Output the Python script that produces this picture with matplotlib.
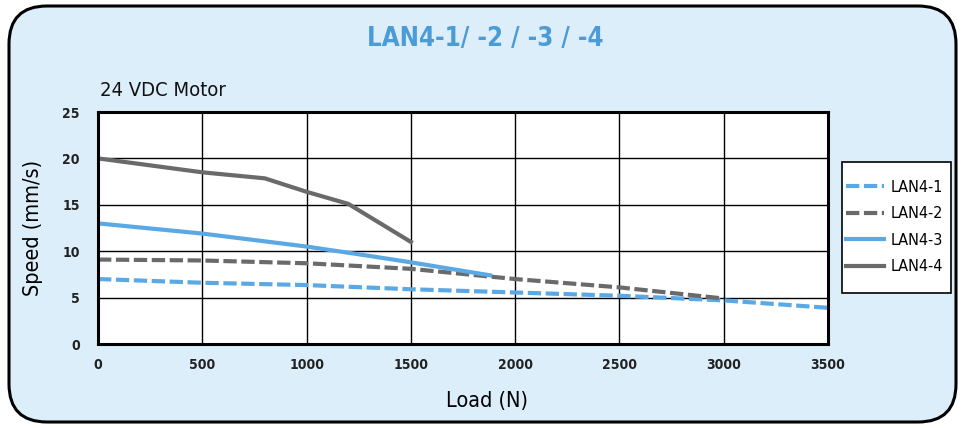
import matplotlib
matplotlib.use("Agg")
import matplotlib.pyplot as plt
from matplotlib.patches import FancyBboxPatch, Rectangle
from matplotlib import font_manager as fm

# ---- data ----
lan1_x = [0, 500, 1000, 1500, 2000, 2500, 3000, 3500]
lan1_y = [7.0, 6.6, 6.35, 5.9, 5.55, 5.2, 4.7, 3.9]
lan2_x = [0, 500, 1000, 1500, 2000, 2500, 3000]
lan2_y = [9.1, 9.0, 8.7, 8.1, 7.0, 6.1, 4.9]
lan3_x = [0, 500, 1000, 1270, 1500, 1880]
lan3_y = [13.0, 11.9, 10.5, 9.6, 8.8, 7.4]
lan4_x = [0, 500, 800, 1000, 1200, 1500]
lan4_y = [20.0, 18.5, 17.85, 16.4, 15.1, 11.0]
x_ticks = [0, 500, 1000, 1500, 2000, 2500, 3000, 3500]
y_ticks = [0, 5, 10, 15, 20, 25]
series_names = ["LAN4-1", "LAN4-2", "LAN4-3", "LAN4-4"]


# ---- pick a condensed font if one is installed ----
def _w(v):
    if isinstance(v, (int, float)):
        return int(v)
    return fm.weight_dict.get(str(v).lower(), 400)


def find_font(bold):
    pref = ["DejaVu Sans", "Liberation Sans Narrow", "Roboto", "Noto Sans",
            "Open Sans", "Lato", "Inter"]
    best = None
    for f in fm.fontManager.ttflist:
        low = (f.name + " " + f.fname).lower()
        cond = (str(f.stretch) in ("condensed", "semi-condensed", "extra-condensed")
                or "condensed" in low or "narrow" in low)
        if not cond or f.style != "normal" or "italic" in low or "oblique" in low:
            continue
        if "extracondensed" in low.replace("-", "").replace(" ", "") or "ultra" in low:
            continue
        w = _w(f.weight)
        target = 700 if bold else 400
        rank = None
        for i, p in enumerate(pref):
            if f.name.startswith(p):
                rank = i
                break
        if rank is None:
            rank = len(pref)
        score = (abs(w - target) // 100, rank)
        if best is None or score < best[0]:
            best = (score, f.fname)
    if best is None:
        return fm.FontProperties(family="DejaVu Sans",
                                 weight="bold" if bold else "normal")
    return fm.FontProperties(fname=best[1])


REG = find_font(False)
BOLD = find_font(True)


def fp(base, size):
    p = base.copy()
    p.set_size(size)
    return p


BLUE = "#5aa9e5"
GRAY = "#6a6a6a"

fig = plt.figure(figsize=(9.65, 4.28), dpi=100)
W, H = 965, 428

bg = fig.add_axes([0, 0, 1, 1])
bg.set_xlim(0, W)
bg.set_ylim(H, 0)
bg.axis("off")
box = FancyBboxPatch((9, 6), W - 18, H - 12,
                     boxstyle="round,pad=0,rounding_size=38",
                     facecolor="#ddeefb", edgecolor="black", linewidth=2.2)
bg.add_patch(box)
bg.text(485, 39, "LAN4-1/ -2 / -3 / -4", color="#4a9bd6",
        fontproperties=fp(BOLD, 18.5), ha="center", va="center")
bg.text(100, 90, "24 VDC Motor", color="#111111",
        fontproperties=fp(REG, 14.5), ha="left", va="center")
# legend frame
bg.add_patch(Rectangle((842, 162), 109, 131, facecolor="white",
                       edgecolor="black", linewidth=1.2))

ax = fig.add_axes([98 / W, 1 - 344 / H, (828 - 98) / W, (344 - 112) / H])
ax.set_facecolor("white")
ax.plot(lan1_x, lan1_y, color=BLUE, lw=3, ls=(0, (3.2, 1.1)), label=series_names[0])
ax.plot(lan2_x, lan2_y, color=GRAY, lw=3, ls=(0, (3.2, 1.1)), label=series_names[1])
ax.plot(lan3_x, lan3_y, color=BLUE, lw=3, label=series_names[2])
ax.plot(lan4_x, lan4_y, color=GRAY, lw=3, label=series_names[3])

ax.set_xlim(0, 3500)
ax.set_ylim(0, 25)
ax.set_xticks(x_ticks)
ax.set_yticks(y_ticks)
ax.grid(True, color="black", lw=1)
ax.set_axisbelow(True)
for s in ax.spines.values():
    s.set_linewidth(2.2)
ax.tick_params(axis="x", length=0, pad=10)
ax.tick_params(axis="y", length=0, pad=13)
for lab in ax.get_xticklabels() + ax.get_yticklabels():
    lab.set_fontproperties(fp(BOLD, 10))
    lab.set_color("#222222")
ax.set_xlabel("Load (N)", fontproperties=fp(REG, 15.5))
ax.xaxis.set_label_coords((487 - 98) / 730, (344 - 391) / 232)
ax.set_ylabel("Speed (mm/s)", fontproperties=fp(REG, 15.5), labelpad=14)

leg = ax.legend(loc="center left", bbox_to_anchor=(846 / W, 1 - 227 / H),
                bbox_transform=fig.transFigure, frameon=False,
                handlelength=2.4, handletextpad=0.4, labelspacing=0.72,
                borderpad=0, borderaxespad=0, prop=fp(REG, 11.5))

fig.savefig("out.png", dpi=100)
